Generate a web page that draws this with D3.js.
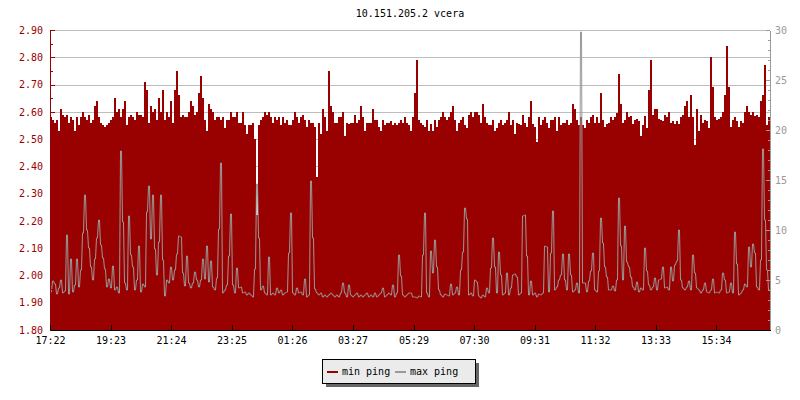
<!DOCTYPE html>
<html><head><meta charset="utf-8">
<script src="https://cdn.jsdelivr.net/npm/d3@7"></script>
<style>
body{margin:0;background:#fff}
svg{display:block}
text{font-family:"DejaVu Sans Mono",monospace;font-size:10px}
</style>
</head><body>
<svg id="c" width="800" height="400"></svg>
<script>
// ---------- data ----------
const chartTitle = "10.151.205.2 vcera";
const startTime = "17:22";
const sampleMinutes = 4;
const spanMinutes = 1440;
const seriesNames = ["min ping", "max ping"];
const xTickLabels = ["17:22","19:23","21:24","23:25","01:26","03:27","05:29","07:30","09:31","11:32","13:33","15:34"];
const leftTicks = [1.80,1.90,2.00,2.10,2.20,2.30,2.40,2.50,2.60,2.70,2.80,2.90];
const rightTicks = [0,5,10,15,20,25,30];

// min ping (left axis), one value every 4 minutes
const minPing = [
2.58,2.57,2.56,2.57,2.53,2.61,2.59,2.58,2.59,2.56,2.58,2.57,2.53,2.58,2.55,2.58,2.60,2.58,2.57,2.59,
2.56,2.57,2.62,2.64,2.58,2.56,2.55,2.545,2.55,2.56,2.57,2.58,2.65,2.60,2.61,2.58,2.61,2.64,2.55,2.58,
2.59,2.58,2.57,2.60,2.59,2.59,2.58,2.71,2.68,2.56,2.62,2.60,2.61,2.57,2.65,2.60,2.68,2.57,2.60,2.58,
2.64,2.56,2.68,2.75,2.66,2.58,2.59,2.58,2.58,2.60,2.64,2.62,2.59,2.60,2.67,2.73,2.65,2.57,2.53,2.63,
2.61,2.60,2.57,2.58,2.58,2.57,2.58,2.54,2.57,2.57,2.60,2.58,2.58,2.60,2.56,2.56,2.60,2.55,2.52,2.55,
2.55,2.56,2.50,2.22,2.55,2.57,2.58,2.60,2.59,2.60,2.58,2.56,2.58,2.57,2.58,2.55,2.58,2.56,2.57,2.55,
2.55,2.57,2.60,2.58,2.56,2.58,2.59,2.57,2.545,2.57,2.56,2.56,2.545,2.36,2.56,2.52,2.61,2.58,2.53,2.75,
2.62,2.60,2.56,2.56,2.58,2.58,2.60,2.51,2.56,2.555,2.56,2.56,2.59,2.56,2.57,2.62,2.58,2.53,2.56,2.56,
2.56,2.61,2.57,2.57,2.545,2.53,2.57,2.55,2.56,2.56,2.565,2.55,2.56,2.55,2.56,2.57,2.56,2.58,2.56,2.55,
2.53,2.58,2.67,2.79,2.57,2.56,2.55,2.545,2.57,2.53,2.555,2.53,2.57,2.545,2.57,2.58,2.60,2.58,2.57,2.58,
2.60,2.62,2.57,2.53,2.56,2.57,2.58,2.55,2.54,2.59,2.60,2.58,2.60,2.60,2.59,2.56,2.63,2.58,2.56,2.55,
2.55,2.57,2.53,2.54,2.56,2.57,2.55,2.56,2.57,2.60,2.55,2.57,2.52,2.56,2.555,2.55,2.59,2.56,2.545,2.58,
2.64,2.555,2.545,2.49,2.58,2.55,2.57,2.58,2.56,2.54,2.57,2.57,2.58,2.53,2.58,2.55,2.56,2.56,2.57,2.55,
2.56,2.63,2.61,2.57,2.55,2.58,2.55,2.54,2.57,2.56,2.58,2.59,2.56,2.58,2.56,2.67,2.57,2.545,2.555,2.56,
2.58,2.57,2.58,2.595,2.74,2.63,2.56,2.57,2.60,2.58,2.585,2.555,2.57,2.575,2.565,2.51,2.55,2.585,2.54,2.68,
2.79,2.59,2.61,2.61,2.575,2.57,2.565,2.59,2.58,2.60,2.56,2.565,2.555,2.565,2.555,2.58,2.59,2.62,2.64,2.58,
2.66,2.58,2.48,2.61,2.53,2.59,2.56,2.57,2.565,2.54,2.80,2.69,2.58,2.57,2.575,2.58,2.60,2.66,2.84,2.69,
2.545,2.57,2.58,2.565,2.545,2.565,2.56,2.60,2.62,2.60,2.59,2.60,2.585,2.59,2.58,2.64,2.66,2.77,2.55,2.58
];

// max ping (right axis), one value every 4 minutes
const maxPing = [
3.8,4.9,4.6,3.6,4.2,5.0,3.7,3.9,9.5,3.6,7.1,3.8,4.5,7.1,4.3,6.0,9.7,13.5,10.0,8.2,
6.3,5.0,7.1,9.2,11.0,8.5,7.2,6.1,4.3,5.1,4.2,6.4,4.0,4.3,3.7,17.9,10.8,4.7,4.0,11.4,
7.5,6.3,4.0,5.0,8.4,3.8,4.6,4.3,11.8,14.4,9.1,13.5,8.1,5.5,8.8,13.5,7.0,3.4,5.0,4.7,
6.3,5.0,6.0,7.6,9.4,9.3,5.7,4.4,7.4,4.7,4.2,4.7,5.8,5.0,4.3,5.0,7.1,5.1,8.4,4.8,
6.9,4.3,4.0,5.2,10.1,16.7,3.7,4.0,4.5,7.4,11.6,4.5,3.7,6.2,4.2,4.3,3.7,3.8,3.5,3.7,
3.5,3.3,6.1,14.6,9.2,4.0,4.4,3.7,3.5,7.3,3.5,3.7,3.5,4.2,3.7,4.0,3.5,3.7,3.8,7.7,
11.7,3.7,3.5,4.2,3.7,3.8,3.5,5.1,3.3,3.5,14.9,9.2,4.1,3.7,3.5,3.7,3.3,3.5,3.3,3.5,
3.7,3.5,3.3,3.5,3.3,3.7,4.7,3.7,3.3,4.5,3.5,3.3,3.5,3.7,3.3,3.5,3.3,3.5,3.7,3.3,
3.5,3.3,3.7,3.3,3.5,3.7,4.2,3.3,3.5,3.7,3.5,4.5,3.3,3.7,7.5,5.4,3.5,3.3,3.5,3.7,
3.7,3.3,3.3,3.2,3.4,3.3,7.5,11.7,3.7,3.3,7.9,5.7,9.0,6.3,4.0,3.5,3.3,3.6,3.5,3.4,
4.6,3.5,3.7,4.3,3.5,6.0,7.8,12.2,11.1,3.5,3.7,3.4,5.0,4.8,3.4,3.2,3.5,3.3,4.2,3.7,
6.2,9.2,6.3,3.7,7.8,5.5,3.5,3.7,5.7,3.5,4.2,5.5,5.6,5.3,3.5,3.7,11.4,11.5,7.4,3.5,
4.9,3.5,3.7,3.3,3.6,3.5,3.7,8.4,8.3,3.8,7.7,11.9,4.0,4.3,5.0,5.5,7.6,5.0,4.0,7.6,
5.5,3.8,4.0,4.7,3.7,29.8,4.7,4.7,3.8,4.9,5.9,7.7,4.0,3.8,5.9,11.2,8.7,6.3,5.3,4.0,
4.0,4.4,3.9,5.0,13.2,8.4,5.0,10.4,6.8,6.3,5.3,4.3,4.0,4.8,3.8,4.2,4.0,8.2,5.9,4.5,
4.0,4.3,5.2,4.0,5.0,5.1,6.3,4.2,4.3,4.0,6.3,4.9,6.5,6.9,10.0,5.0,4.2,4.0,4.3,4.9,
4.0,7.5,5.7,4.2,4.0,3.7,4.0,4.7,3.8,3.7,4.0,5.1,3.7,3.8,3.7,4.0,5.7,5.0,3.7,3.8,
4.7,3.7,9.8,6.6,3.5,3.7,4.0,4.6,4.3,8.3,6.3,8.6,7.7,4.3,4.0,7.0,18.1,11.0,6.0,4.0
];

// ---------- drawing ----------
const RED = "#990000", GRAY = "#999999", GRID = "#bdbdbd";
const svg = d3.select("#c");
const P = {left: 50, right: 770, top: 30, bottom: 330};

const parseHM = d3.timeParse("%H:%M");
const t0 = parseHM(startTime);
const tEnd = d3.timeMinute.offset(t0, spanMinutes);
const rows = minPing.map((v, i) => ({t: d3.timeMinute.offset(t0, i * sampleMinutes), v, w: maxPing[i]}));
const stepRows = rows.concat([{t: tEnd, v: minPing[minPing.length - 1]}]);

const x = d3.scaleTime().domain([t0, tEnd]).range([P.left, P.right]);
const yL = d3.scaleLinear().domain(d3.extent(leftTicks)).range([P.bottom, P.top]);
const yR = d3.scaleLinear().domain(d3.extent(rightTicks)).range([P.bottom, P.top]);

// narrow step curve: each sample held for 1px, then a 1px transition to the next one
function curveNarrowStep(context) {
  let first = true;
  return {
    lineStart() { first = true; },
    lineEnd() {},
    areaStart() {}, areaEnd() {},
    point(px, py) {
      if (first) { context.moveTo(px, py); first = false; } else context.lineTo(px, py);
      context.lineTo(px + 1, py);
    }
  };
}

// title
svg.append("text").attr("x", (P.left + P.right) / 2).attr("y", 17)
  .attr("text-anchor", "middle").attr("fill", "#000").text(chartTitle);

// horizontal grid
svg.append("g").selectAll("line").data(leftTicks.slice(1)).join("line")
  .attr("x1", P.left).attr("x2", P.right)
  .attr("y1", d => Math.round(yL(d)) + 0.5).attr("y2", d => Math.round(yL(d)) + 0.5)
  .attr("stroke", GRID).attr("stroke-width", 1).attr("shape-rendering", "crispEdges");

// min ping area
svg.append("path").datum(stepRows)
  .attr("d", d3.area().curve(d3.curveStepAfter).x(d => x(d.t)).y0(yL(leftTicks[0])).y1(d => yL(d.v)))
  .attr("fill", RED).attr("shape-rendering", "crispEdges");

// max ping line
svg.append("path").datum(rows)
  .attr("transform", "translate(0.5,0)")
  .attr("d", d3.line().curve(curveNarrowStep).x(d => x(d.t)).y(d => yR(d.w)))
  .attr("fill", "none").attr("stroke", GRAY).attr("stroke-width", 1)
  .attr("stroke-linejoin", "miter").attr("stroke-miterlimit", 1.5);

// left axis
const minorL = d3.pairs(leftTicks).map(([a, b]) => (a + b) / 2);
const gL = svg.append("g").attr("transform", `translate(${P.left},0)`)
  .call(d3.axisLeft(yL).tickValues(leftTicks).tickFormat(d3.format(".2f"))
    .tickSizeInner(-5).tickSizeOuter(0).tickPadding(7));
svg.append("g").attr("transform", `translate(${P.left},0)`)
  .call(d3.axisLeft(yL).tickValues(minorL).tickFormat("").tickSizeInner(-3).tickSizeOuter(0))
  .call(g => g.select(".domain").remove())
  .selectAll("line").attr("stroke", RED).attr("shape-rendering", "crispEdges");
gL.selectAll("path,line").attr("stroke", RED).attr("shape-rendering", "crispEdges");
gL.selectAll("text").attr("fill", RED).style("font-family", "DejaVu Sans Mono").style("font-size", "10px");

// right axis
const gR = svg.append("g").attr("transform", `translate(${P.right},0)`)
  .call(d3.axisRight(yR).tickValues(rightTicks).tickSizeInner(-4).tickSizeOuter(0).tickPadding(5));
svg.append("g").attr("transform", `translate(${P.right},0)`)
  .call(d3.axisRight(yR).tickValues(yR.ticks(30)).tickFormat("").tickSizeInner(-2).tickSizeOuter(0))
  .call(g => g.select(".domain").remove())
  .selectAll("line").attr("stroke", GRAY).attr("shape-rendering", "crispEdges");
gR.selectAll("path,line").attr("stroke", GRAY).attr("shape-rendering", "crispEdges");
gR.selectAll("text").attr("fill", GRAY).style("font-family", "DejaVu Sans Mono").style("font-size", "10px");

// x axis
const tickDates = xTickLabels.map(s => {
  let d = parseHM(s);
  if (d < t0) d = d3.timeDay.offset(d, 1);
  return d;
});
const gX = svg.append("g").attr("transform", `translate(0,${P.bottom})`)
  .call(d3.axisBottom(x).tickValues(tickDates).tickFormat(d3.timeFormat("%H:%M"))
    .tickSizeInner(-5).tickSizeOuter(0).tickPadding(7));
gX.selectAll("path,line").attr("stroke", "#000").attr("shape-rendering", "crispEdges");
gX.selectAll("text").attr("fill", "#000").style("font-family", "DejaVu Sans Mono").style("font-size", "10px");

// legend
const lg = svg.append("g").attr("transform", "translate(322,359)");
lg.append("rect").attr("x", 4).attr("y", 4).attr("width", 153).attr("height", 24).attr("fill", "#666");
lg.append("rect").attr("x", 0.5).attr("y", 0.5).attr("width", 153).attr("height", 24)
  .attr("fill", "#ebebeb").attr("stroke", "#000").attr("shape-rendering", "crispEdges");
const legendColors = [RED, GRAY];
const itemX = [5, 73];
seriesNames.forEach((name, i) => {
  lg.append("line").attr("x1", itemX[i]).attr("x2", itemX[i] + 11).attr("y1", 13).attr("y2", 13)
    .attr("stroke", legendColors[i]).attr("stroke-width", 2).attr("shape-rendering", "crispEdges");
  lg.append("text").attr("x", itemX[i] + 15).attr("y", 16).attr("fill", "#000").text(name);
});
</script>
</body></html>
